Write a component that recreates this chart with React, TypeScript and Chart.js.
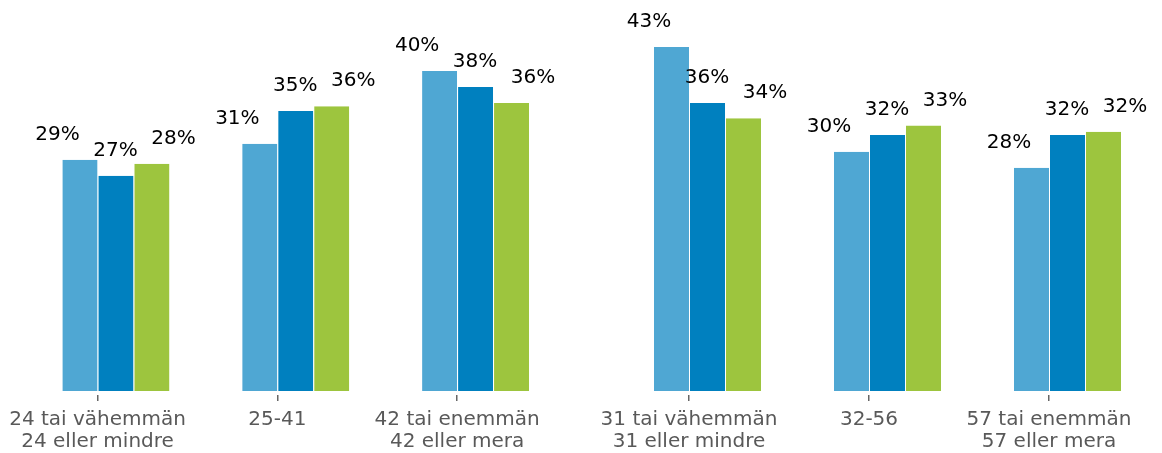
import React, { useEffect, useRef } from "react";
import { Chart, registerables } from "chart.js";

Chart.register(...registerables);

const categories: string[][] = [
  ["24 tai vähemmän", "24 eller mindre"],
  ["25-41"],
  ["42 tai enemmän", "42 eller mera"],
  ["31 tai vähemmän", "31 eller mindre"],
  ["32-56"],
  ["57 tai enemmän", "57 eller mera"],
];
const seriesA: number[] = [28.9, 30.9, 40, 43, 29.9, 27.9];
const seriesB: number[] = [26.9, 35, 38, 36, 32, 32];
const seriesC: number[] = [28.4, 35.6, 36, 34.1, 33.2, 32.4];
const colors = ["#4fa7d3", "#0080bf", "#9dc53e"];
const FONT = "'DejaVu Sans', sans-serif";
const W = 1162;
const H = 461;

const labelPlugin = {
  id: "valueLabels",
  afterDatasetsDraw(chart: any) {
    const ctx = chart.ctx;
    ctx.save();
    ctx.font = `20px ${FONT}`;
    ctx.fillStyle = "#000";
    ctx.textAlign = "center";
    ctx.textBaseline = "middle";
    const offsets = [0, -22, 0, 22];
    chart.data.datasets.forEach((ds: any, di: number) => {
      if (di === 0) return;
      const meta = chart.getDatasetMeta(di);
      meta.data.forEach((bar: any, i: number) => {
        const v = ds.data[i];
        if (v == null) return;
        ctx.fillText(Math.round(v) + "%", bar.x + offsets[di], bar.y - 25);
      });
    });
    ctx.restore();
  },
};

function BarPanel({ from, to, padLeft, padRight }: { from: number; to: number; padLeft: number; padRight: number }) {
  const ref = useRef<HTMLCanvasElement>(null);
  useEffect(() => {
    if (!ref.current) return;
    const chart = new Chart(ref.current, {
      type: "bar",
      data: {
        labels: categories.slice(from, to),
        datasets: [
          { label: "", data: categories.slice(from, to).map(() => null), backgroundColor: "transparent" },
          { label: "A", data: seriesA.slice(from, to), backgroundColor: colors[0] },
          { label: "B", data: seriesB.slice(from, to), backgroundColor: colors[1] },
          { label: "C", data: seriesC.slice(from, to), backgroundColor: colors[2] },
        ].map((d) => ({
          ...d,
          borderColor: "#ffffff",
          borderWidth: { left: 1, right: 0, top: 0, bottom: 0 },
          borderSkipped: false,
          barPercentage: 1,
          categoryPercentage: 0.8,
        })) as any,
      },
      options: {
        responsive: false,
        animation: false,
        layout: { padding: { top: 3, bottom: 0, left: padLeft, right: padRight } },
        plugins: { legend: { display: false }, tooltip: { enabled: false } },
        scales: {
          x: {
            grid: {
              display: true,
              drawOnChartArea: false,
              drawTicks: true,
              tickLength: 6,
              offset: false,
              color: "#666",
              lineWidth: 1.5,
            },
            border: { display: false },
            ticks: {
              color: "#595959",
              font: { family: FONT, size: 20, lineHeight: 1.1 },
              padding: 8,
              maxRotation: 0,
              autoSkip: false,
            },
          },
          y: {
            display: false,
            min: -0.5,
            max: 48.5,
          },
        },
      },
      plugins: [labelPlugin],
    });
    return () => chart.destroy();
  }, [from, to, padLeft, padRight]);
  return (
    <canvas
      ref={ref}
      width={W}
      height={H}
      style={{ display: "block", position: "absolute", left: 0, top: 0 }}
    />
  );
}

export default function App() {
  return (
    <div
      style={{
        position: "absolute",
        left: 0,
        top: 0,
        width: W,
        height: 453,
        overflow: "hidden",
        background: "#fff",
      }}
    >
      <BarPanel from={0} to={3} padLeft={7} padRight={W - 547} />
      <BarPanel from={3} to={6} padLeft={599} padRight={W - 1139} />
    </div>
  );
}
